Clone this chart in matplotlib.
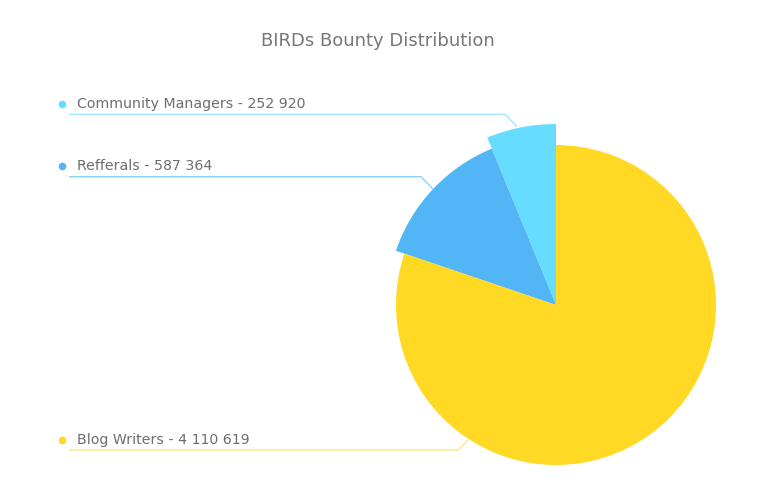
import matplotlib
matplotlib.use("Agg")
import matplotlib.pyplot as plt

# ---- data ----
categories = ["Community Managers", "Refferals", "Blog Writers"]
amounts = ["252 920", "587 364", "4 110 619"]
# slice shares as drawn in the reference (percent of the circle)
shares = [6.2, 13.6, 80.2]
colors = ["#66DDFF", "#52B6F6", "#FFD923"]
line_colors = ["#9FE8FF", "#8FD0FA", "#FFE680"]
slice_radii = [181, 169, 160]

W, H = 768, 499
plt.rcParams["font.family"] = ["DejaVu Sans"]

fig = plt.figure(figsize=(W / 100, H / 100), dpi=100)
ax = fig.add_axes([0, 0, 1, 1])

def Y(y):
    return H - y

cx, cy = 556, 305
wedges, _ = ax.pie(shares, colors=colors, startangle=90, counterclock=True,
                   center=(cx, Y(cy)), radius=160,
                   wedgeprops=dict(linewidth=0))
for w, r in zip(wedges, slice_radii):
    w.set_radius(r)

ax.set_xlim(0, W)
ax.set_ylim(0, H)
ax.set_aspect("equal")
ax.axis("off")

# labels with leader lines
label_y = [104, 166, 440]
line_y = [114.3, 176.7, 450]
line_end = [(505, 517, 126.5), (421, 433, 189), (458, 468, 440)]
text_color = "#6E6E6E"
for cat, amt, col, lc, ly, uy, (xb, xe, ye) in zip(categories, amounts, colors, line_colors,
                                                    label_y, line_y, line_end):
    ax.plot([62], [Y(ly)], marker="o", markersize=5.5, color=col, markeredgewidth=0)
    ax.text(77, Y(ly), f"{cat} - {amt}", fontsize=10.2, color=text_color,
            va="center", ha="left")
    ax.plot([69, xb, xe], [Y(uy), Y(uy), Y(ye)], color=lc, linewidth=1.0,
            solid_capstyle="butt")

ax.text(W / 2 - 6, Y(41), "BIRDs Bounty Distribution", fontsize=13,
        color="#777777", ha="center", va="center")

fig.savefig("out.png", dpi=100)
